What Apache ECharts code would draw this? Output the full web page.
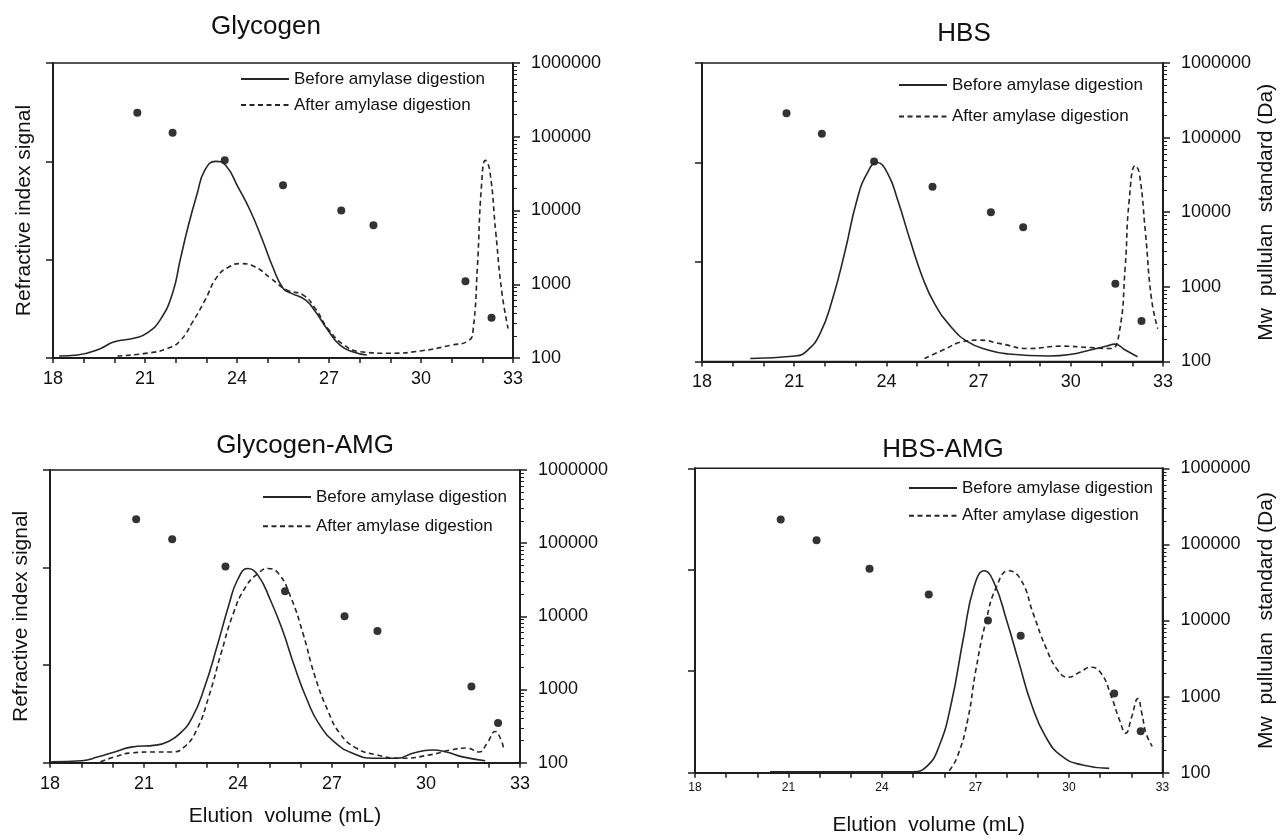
<!DOCTYPE html>
<html>
<head>
<meta charset="utf-8">
<script src="https://cdn.jsdelivr.net/npm/echarts@6/dist/echarts.min.js"></script>
<style>
  html, body { margin: 0; padding: 0; background: #fff; }
  #chart { width: 1282px; height: 837px; }
</style>
</head>
<body>
<div id="chart"></div>
<script>
// Panel titles and legend entries
const panelTitles = ['Glycogen', 'HBS', 'Glycogen-AMG', 'HBS-AMG'];
const seriesNames = ['Before amylase digestion', 'After amylase digestion'];
const xTickLabels = [18, 21, 24, 27, 30, 33];
const mwTickLabels = [100, 1000, 10000, 100000, 1000000];

// Pullulan standards: elution volume (mL) and Mw (Da)
const standardVolume = [20.75, 21.9, 23.6, 25.5, 27.4, 28.45, 31.45, 32.3];
const standardMw = [212000, 113000, 48000, 22000, 10000, 6300, 1100, 350];

// Refractive index traces, [elution volume, signal]
const glycogenBefore = [
  [18.2, 0.02], [18.8, 0.03], [19.5, 0.09], [20.0, 0.165], [20.7, 0.205], [21.1, 0.26],
  [21.5, 0.39], [21.9, 0.66], [22.15, 1.0], [22.4, 1.33], [22.7, 1.67], [22.95, 1.91],
  [23.3, 2.0], [23.63, 1.96], [24.03, 1.74], [24.43, 1.5], [24.83, 1.2], [25.16, 0.93],
  [25.5, 0.71], [25.76, 0.66], [26.23, 0.59], [26.56, 0.47], [26.96, 0.285], [27.36, 0.13],
  [27.77, 0.064], [28.23, 0.03]
];
const glycogenAfter = [
  [20.1, 0.02], [21.1, 0.05], [21.76, 0.1], [22.16, 0.18], [22.56, 0.37], [22.96, 0.59],
  [23.36, 0.83], [23.76, 0.93], [24.09, 0.96], [24.56, 0.93], [25.1, 0.81], [25.63, 0.69],
  [26.16, 0.64], [26.56, 0.5], [26.96, 0.3], [27.5, 0.13], [28.03, 0.064], [28.96, 0.048],
  [30.03, 0.074], [30.97, 0.13], [31.57, 0.18], [31.7, 0.285], [31.84, 0.93], [31.97, 1.74],
  [32.1, 2.01], [32.24, 1.91], [32.44, 1.27], [32.64, 0.66], [32.84, 0.3]
];
const hbsBefore = [
  [19.57, 0.03], [21.04, 0.055], [21.44, 0.115], [21.84, 0.28], [22.24, 0.62], [22.64, 1.09],
  [23.04, 1.62], [23.37, 1.89], [23.7, 2.0], [24.04, 1.89], [24.37, 1.62], [24.77, 1.22],
  [25.17, 0.85], [25.57, 0.58], [26.1, 0.35], [26.64, 0.2], [27.3, 0.115], [27.97, 0.075],
  [29.3, 0.055], [29.97, 0.07], [30.63, 0.115], [31.17, 0.155], [31.43, 0.175], [31.77, 0.115],
  [32.17, 0.048]
];
const hbsAfter = [
  [25.24, 0.03], [25.84, 0.115], [26.5, 0.2], [27.04, 0.215], [27.7, 0.18], [28.63, 0.13],
  [29.7, 0.155], [30.63, 0.14], [31.3, 0.13], [31.57, 0.28], [31.77, 0.95], [31.9, 1.62],
  [32.1, 1.97], [32.23, 1.89], [32.43, 1.29], [32.63, 0.62], [32.83, 0.33]
];
const glycogenAmgBefore = [
  [18.04, 0.01], [19.02, 0.02], [19.54, 0.06], [20.06, 0.11], [20.59, 0.16], [21.37, 0.18],
  [21.76, 0.215], [22.15, 0.3], [22.55, 0.47], [22.94, 0.78], [23.33, 1.19], [23.72, 1.63],
  [23.98, 1.87], [24.31, 1.99], [24.64, 1.92], [25.03, 1.67], [25.42, 1.36], [25.81, 0.98],
  [26.21, 0.64], [26.6, 0.39], [27.12, 0.2], [27.64, 0.1], [28.3, 0.045], [29.08, 0.045],
  [29.6, 0.1], [30.19, 0.13], [30.65, 0.11], [31.17, 0.06], [31.89, 0.02]
];
const glycogenAmgAfter = [
  [19.61, 0.01], [20.07, 0.06], [20.59, 0.1], [21.37, 0.11], [21.89, 0.11], [22.28, 0.16],
  [22.68, 0.335], [23.07, 0.68], [23.46, 1.12], [23.85, 1.53], [24.24, 1.8], [24.64, 1.94],
  [24.96, 1.99], [25.29, 1.94], [25.68, 1.7], [26.07, 1.33], [26.46, 0.88], [26.86, 0.54],
  [27.25, 0.3], [27.77, 0.15], [28.42, 0.08], [29.21, 0.045], [30.12, 0.08], [30.78, 0.13],
  [31.3, 0.15], [31.69, 0.11], [31.95, 0.2], [32.21, 0.32], [32.4, 0.23], [32.47, 0.15]
];
const hbsAmgBefore = [
  [20.41, 0.01], [22.0, 0.01], [24.97, 0.01], [25.43, 0.06], [25.83, 0.26], [26.22, 0.68],
  [26.62, 1.34], [26.95, 1.83], [27.28, 1.99], [27.6, 1.87], [28.0, 1.5], [28.4, 1.08],
  [28.79, 0.68], [29.25, 0.355], [29.78, 0.16], [30.43, 0.076], [31.29, 0.043]
];
const hbsAmgAfter = [
  [26.16, 0.02], [26.42, 0.16], [26.75, 0.52], [27.01, 1.01], [27.34, 1.5], [27.67, 1.83],
  [28.06, 1.99], [28.46, 1.9], [28.85, 1.57], [29.25, 1.24], [29.64, 1.01], [29.97, 0.94],
  [30.37, 0.995], [30.7, 1.04], [31.03, 0.98], [31.36, 0.75], [31.62, 0.52], [31.82, 0.39],
  [32.01, 0.55], [32.21, 0.73], [32.34, 0.58], [32.47, 0.39], [32.67, 0.26]
];

const traces = [
  [glycogenBefore, glycogenAfter],
  [hbsBefore, hbsAfter],
  [glycogenAmgBefore, glycogenAmgAfter],
  [hbsAmgBefore, hbsAmgAfter]
];

// Layout of the four panels
const panels = [
  { grid: { left: 53, top: 63, width: 460, height: 295 }, leftName: true, rightName: false, xName: false,
    xFont: 18, legend: { left: 240, top: 69, gap: 6 }, title: { x: 266, y: 27 } },
  { grid: { left: 702, top: 63, width: 461, height: 298.5 }, leftName: false, rightName: true, xName: false,
    xFont: 18, legend: { left: 898, top: 75, gap: 11.5 }, title: { x: 964, y: 34 } },
  { grid: { left: 50, top: 470, width: 470, height: 292.7 }, leftName: true, rightName: false, xName: true,
    xFont: 18, legend: { left: 262, top: 487, gap: 9.3 }, title: { x: 305, y: 446 } },
  { grid: { left: 695, top: 468.3, width: 467.5, height: 304.4 }, leftName: false, rightName: true, xName: true,
    xFont: 12, legend: { left: 908, top: 478, gap: 7.7 }, title: { x: 943, y: 450 } }
];

const FONT = '"Liberation Sans", Arial, sans-serif';
const INK = '#111';
const AXIS = '#1e1e1e';
const TRACE = '#262626';

const option = {
  animation: false,
  backgroundColor: '#fff',
  grid: [], xAxis: [], yAxis: [], series: [], legend: [], graphic: []
};

panels.forEach((p, i) => {
  option.grid.push(Object.assign({ show: true, borderColor: AXIS, borderWidth: 1.5, containLabel: false }, p.grid));

  option.xAxis.push({
    type: 'value', gridIndex: i, min: 18, max: 33, interval: 1,
    name: p.xName ? 'Elution  volume (mL)' : '',
    nameLocation: 'middle', nameGap: p.xFont === 12 ? 42 : 43,
    nameTextStyle: { fontSize: 21, fontFamily: FONT, color: INK },
    axisLine: { lineStyle: { color: AXIS, width: 2 } },
    axisTick: { length: 5, lineStyle: { color: AXIS, width: 1.5 } },
    axisLabel: {
      fontSize: p.xFont, fontFamily: FONT, color: INK, margin: p.xFont === 12 ? 9 : 12,
      showMinLabel: true, showMaxLabel: true,
      formatter: v => (xTickLabels.indexOf(v) >= 0 ? String(v) : '')
    },
    splitLine: { show: false }
  });

  // Left axis: refractive index signal (unlabelled)
  option.yAxis.push({
    type: 'value', gridIndex: i, position: 'left', min: 0, max: 3, interval: 1,
    name: p.leftName ? 'Refractive index signal' : '',
    nameLocation: 'middle', nameGap: 18, nameRotate: 90,
    nameTextStyle: { fontSize: 21, fontFamily: FONT, color: INK },
    axisLine: { show: true, lineStyle: { color: AXIS, width: 2 } },
    axisTick: { show: true, length: 7, lineStyle: { color: AXIS, width: 1.5 } },
    axisLabel: { show: false },
    splitLine: { show: false }
  });

  // Right axis: Mw of pullulan standards, log scale
  option.yAxis.push({
    type: 'log', logBase: 10, gridIndex: i, position: 'right', min: 100, max: 1000000,
    name: p.rightName ? 'Mw  pullulan  standard (Da)' : '',
    nameLocation: 'middle', nameGap: 93, nameRotate: 90,
    nameTextStyle: { fontSize: 21, fontFamily: FONT, color: INK },
    axisLine: { show: true, lineStyle: { color: AXIS, width: 2 } },
    axisTick: { show: true, length: 7, lineStyle: { color: AXIS, width: 1.5 } },
    minorTick: { show: true, splitNumber: 9, length: 4, lineStyle: { color: AXIS, width: 1 } },
    axisLabel: {
      fontSize: 18, fontFamily: FONT, color: INK, margin: 18,
      formatter: v => {
        let best = mwTickLabels[0];
        mwTickLabels.forEach(t => { if (Math.abs(Math.log10(t) - Math.log10(v)) < Math.abs(Math.log10(best) - Math.log10(v))) best = t; });
        return String(best);
      }
    },
    splitLine: { show: false },
    minorSplitLine: { show: false }
  });

  const [before, after] = traces[i];
  option.series.push({
    name: seriesNames[0], type: 'line', xAxisIndex: i, yAxisIndex: 2 * i,
    data: before, symbol: 'none', smooth: 0.5,
    lineStyle: { color: TRACE, width: 1.6, type: 'solid' }, itemStyle: { color: TRACE }
  });
  option.series.push({
    name: seriesNames[1], type: 'line', xAxisIndex: i, yAxisIndex: 2 * i,
    data: after, symbol: 'none', smooth: 0.5,
    lineStyle: { color: TRACE, width: 1.6, type: [5, 3.5] }, itemStyle: { color: TRACE }
  });
  option.series.push({
    name: 'Pullulan standards', type: 'scatter', xAxisIndex: i, yAxisIndex: 2 * i + 1,
    data: standardVolume.map((v, k) => [v, standardMw[k]]),
    symbol: 'circle', symbolSize: 8, itemStyle: { color: '#000' }
  });

  option.legend.push({
    data: seriesNames, orient: 'vertical', left: p.legend.left, top: p.legend.top,
    itemGap: p.legend.gap, itemWidth: 48, itemHeight: 14, selectedMode: false, padding: 0,
    itemStyle: { opacity: 0 },
    textStyle: { fontSize: 17, fontFamily: FONT, color: INK, lineHeight: 20 }
  });

  option.graphic.push({
    type: 'text', x: p.title.x, y: p.title.y,
    style: { text: panelTitles[i], fontSize: 26, fontFamily: FONT, fill: INK,
      textAlign: 'center', textVerticalAlign: 'middle', verticalAlign: 'middle' }
  });
});

const chart = echarts.init(document.getElementById('chart'), null, { renderer: 'canvas' });
chart.setOption(option);
</script>
</body>
</html>
